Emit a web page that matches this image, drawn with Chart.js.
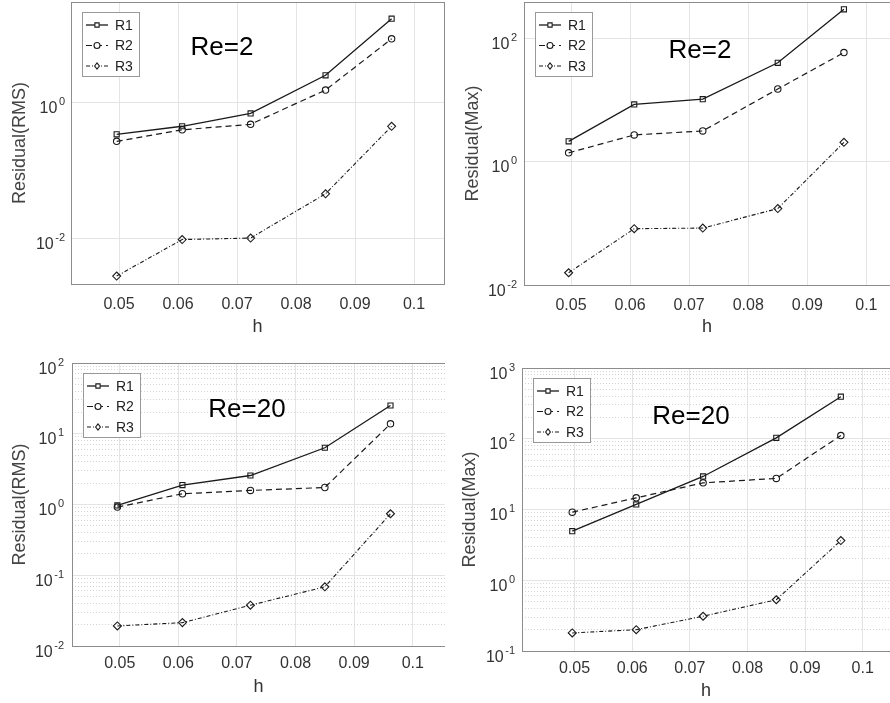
<!DOCTYPE html>
<html>
<head>
<meta charset="utf-8">
<script src="https://cdn.jsdelivr.net/npm/chart.js@4.4.0/dist/chart.umd.min.js"></script>
<style>
  html, body { margin: 0; padding: 0; background: #fff; }
  #fig { position: relative; width: 890px; height: 703px; overflow: hidden; }
  #fig canvas { position: absolute; }
</style>
</head>
<body>
<div id="fig"></div>
<script>
// grid spacing h (x values)
const hValues = [0.0496, 0.0607, 0.0723, 0.0850, 0.0962];
const xTickValues = [0.05, 0.06, 0.07, 0.08, 0.09, 0.1];
const seriesNames = ['R1', 'R2', 'R3'];

// Re=2, RMS residual
const rmsRe2R1 = [0.335, 0.44, 0.68, 2.47, 16.8];
const rmsRe2R2 = [0.264, 0.39, 0.47, 1.5, 8.5];
const rmsRe2R3 = [0.00276, 0.0095, 0.0100, 0.0447, 0.44];

// Re=2, max residual
const maxRe2R1 = [2.15, 8.55, 10.4, 40.5, 299];
const maxRe2R2 = [1.4, 2.73, 3.17, 15.2, 59.3];
const maxRe2R3 = [0.0158, 0.082, 0.084, 0.174, 2.07];

// Re=20, RMS residual
const rmsRe20R1 = [0.97, 1.88, 2.57, 6.34, 25.1];
const rmsRe20R2 = [0.92, 1.42, 1.58, 1.74, 13.8];
const rmsRe20R3 = [0.0192, 0.0214, 0.0377, 0.0686, 0.74];

// Re=20, max residual
const maxRe20R1 = [4.94, 11.8, 29.3, 103, 393];
const maxRe20R2 = [9.17, 14.6, 23.8, 27.5, 111];
const maxRe20R3 = [0.18, 0.2, 0.31, 0.53, 3.64];

// y tick values (decades)
const yTicksRmsRe2 = [0.01, 1];
const yTicksMaxRe2 = [0.01, 1, 100];
const yTicksRmsRe20 = [0.01, 0.1, 1, 10, 100];
const yTicksMaxRe20 = [0.1, 1, 10, 100, 1000];

const FONT = '"Liberation Sans", Arial, sans-serif';
const fig = document.getElementById('fig');

function minorValues(min, max) {
  let out = [];
  for (let d = Math.floor(Math.log10(min)); d < Math.ceil(Math.log10(max)); d++) {
    for (let k = 2; k <= 9; k++) {
      let v = k * Math.pow(10, d);
      if (v > min && v < max) out.push(v);
    }
  }
  return out;
}

function drawMarker(ctx, style, x, y, r) {
  ctx.beginPath();
  if (style === 'rect') {
    let s = Math.SQRT1_2 * r;
    ctx.rect(x - s, y - s, 2 * s, 2 * s);
  } else if (style === 'circle') {
    ctx.arc(x, y, r, 0, Math.PI * 2);
  } else {
    ctx.moveTo(x - r * 0.8, y); ctx.lineTo(x, y - r); ctx.lineTo(x + r * 0.8, y); ctx.lineTo(x, y + r); ctx.closePath();
  }
  ctx.fill();
  ctx.stroke();
}

const framePlugin = {
  id: 'frame',
  afterDatasetsDraw(chart) {
    const a = chart.chartArea, ctx = chart.ctx;
    ctx.save();
    ctx.strokeStyle = '#8c8c8c';
    ctx.lineWidth = 1;
    ctx.strokeRect(Math.round(a.left) + 0.5, Math.round(a.top) + 0.5, Math.round(a.right - a.left), Math.round(a.bottom - a.top));
    ctx.restore();
  }
};

// power-of-ten tick labels with a raised exponent, placed with the y scale
const powTickPlugin = {
  id: 'powTicks',
  afterDraw(chart, args, opts) {
    const s = chart.scales.y, ctx = chart.ctx;
    ctx.save();
    ctx.fillStyle = '#333';
    ctx.textBaseline = 'alphabetic';
    s.ticks.forEach(t => {
      const y = s.getPixelForValue(t.value);
      const e = String(Math.round(Math.log10(t.value)));
      const xr = s.right - opts.pad;
      ctx.font = '11px ' + FONT;
      ctx.textAlign = 'right';
      ctx.fillText(e, xr, y + 2.5);
      const ew = ctx.measureText(e).width;
      ctx.font = '16px ' + FONT;
      ctx.fillText('10', xr - ew - 1.5, y + 10.5);
    });
    ctx.restore();
  }
};

const legendPlugin = {
  id: 'inlineLegend',
  afterDraw(chart) {
    const a = chart.chartArea, ctx = chart.ctx;
    const x0 = Math.round(a.left + 11), y0 = Math.round(a.top + 10);
    ctx.save();
    ctx.fillStyle = '#fff';
    ctx.fillRect(x0, y0, 57, 64);
    ctx.strokeStyle = '#999';
    ctx.lineWidth = 1;
    ctx.strokeRect(x0 + 0.5, y0 + 0.5, 57, 64);
    chart.data.datasets.forEach((ds, i) => {
      const y = y0 + 13 + i * 20.5;
      ctx.strokeStyle = ds.borderColor;
      ctx.lineWidth = ds.borderWidth;
      ctx.setLineDash(ds.borderDash || []);
      ctx.beginPath(); ctx.moveTo(x0 + 4, y); ctx.lineTo(x0 + 26, y); ctx.stroke();
      ctx.setLineDash([]);
      ctx.fillStyle = '#fff';
      ctx.lineWidth = 1.1;
      drawMarker(ctx, ds.pointStyle, x0 + 15, y, 3);
      ctx.fillStyle = '#222';
      ctx.font = '14px ' + FONT;
      ctx.textBaseline = 'middle';
      ctx.textAlign = 'left';
      ctx.fillText(ds.label, x0 + 33, y + 1);
    });
    ctx.restore();
  }
};

const titlePlugin = {
  id: 'panelTitle',
  afterDraw(chart, args, opts) {
    const ctx = chart.ctx;
    ctx.save();
    ctx.fillStyle = '#000';
    ctx.font = '26px ' + FONT;
    ctx.textAlign = 'center';
    ctx.textBaseline = 'middle';
    ctx.fillText(opts.text, opts.x, opts.y);
    ctx.restore();
  }
};

function makeDatasets(r1, r2, r3) {
  const vals = [r1, r2, r3];
  const styles = [
    { dash: [], point: 'rect', radius: 3.6, width: 1.3 },
    { dash: [6, 4], point: 'circle', radius: 3.2, width: 1.2 },
    { dash: [4, 2, 1, 2], point: 'rectRot', radius: 4, width: 1.1 }
  ];
  return vals.map((v, i) => ({
    label: seriesNames[i],
    data: hValues.map((h, j) => ({ x: h, y: v[j] })),
    borderColor: '#1a1a1a',
    borderWidth: styles[i].width,
    borderDash: styles[i].dash,
    pointStyle: styles[i].point,
    pointRadius: styles[i].radius,
    pointBorderWidth: 1.1,
    pointBorderColor: '#1a1a1a',
    pointBackgroundColor: 'rgba(255,255,255,0)',
    tension: 0,
    fill: false
  }));
}

function makePanel(p) {
  const cv = document.createElement('canvas');
  cv.width = p.w; cv.height = p.h;
  cv.style.left = p.left + 'px';
  cv.style.top = p.top + 'px';
  cv.style.width = p.w + 'px';
  cv.style.height = p.h + 'px';
  fig.appendChild(cv);

  const scales = {
    x: {
      type: 'linear', min: p.xMin, max: p.xMax,
      afterBuildTicks: s => { s.ticks = xTickValues.map(v => ({ value: v })); },
      afterFit: s => { s.height = p.xAxisH; s.paddingLeft = 0; s.paddingRight = 0; },
      grid: { color: '#e4e4e4', drawTicks: false },
      border: { color: '#8c8c8c' },
      ticks: {
        padding: p.xTickPad, color: '#333', maxRotation: 0, autoSkip: false,
        font: { family: FONT, size: 16 },
        callback: v => String(+Number(v).toFixed(2))
      },
      title: { display: true, text: 'h', color: '#333', font: { family: FONT, size: 18 }, padding: { top: 0, bottom: p.xTitlePad } }
    },
    y: {
      type: 'logarithmic', min: p.yMin, max: p.yMax, position: 'left',
      afterBuildTicks: s => { s.ticks = p.yTicks.map(v => ({ value: v })); },
      afterFit: s => { s.width = p.yAxisW; s.paddingTop = 0; s.paddingBottom = 0; },
      grid: { color: '#e4e4e4', drawTicks: false },
      border: { color: '#8c8c8c' },
      ticks: { display: false, autoSkip: false },
      title: { display: true, text: p.yTitle, color: '#444', font: { family: FONT, size: 18 }, padding: { top: p.yTitlePad, bottom: 0 } }
    }
  };
  if (p.minorGrid) {
    scales.yMinor = {
      type: 'logarithmic', min: p.yMin, max: p.yMax, position: 'left',
      afterBuildTicks: s => { s.ticks = minorValues(p.yMin, p.yMax).map(v => ({ value: v })); },
      afterFit: s => { s.width = 0; s.paddingTop = 0; s.paddingBottom = 0; },
      grid: { color: '#d4d4d4', drawTicks: false, lineWidth: 1 },
      border: { display: false, dash: [1, 2] },
      ticks: { display: false }
    };
  }

  new Chart(cv.getContext('2d'), {
    type: 'line',
    data: { datasets: makeDatasets(p.r1, p.r2, p.r3) },
    options: {
      responsive: false,
      animation: false,
      devicePixelRatio: 1,
      layout: { autoPadding: false, padding: { top: p.padTop, right: p.padRight, left: 0, bottom: 0 } },
      scales: scales,
      plugins: {
        legend: { display: false },
        tooltip: { enabled: false },
        powTicks: { pad: p.yTickPad },
        panelTitle: { text: p.title, x: p.titleX, y: p.titleY }
      }
    },
    plugins: [framePlugin, powTickPlugin, legendPlugin, titlePlugin]
  });
}

makePanel({
  left: 0, top: 0, w: 445, h: 345,
  xMin: 0.04186, xMax: 0.10508, yMin: 0.00211, yMax: 29.55,
  yTicks: yTicksRmsRe2, minorGrid: false,
  yAxisW: 71, xAxisH: 61, padTop: 2, padRight: 1,
  xTickPad: 11, xTitlePad: 7, yTickPad: 6, yTitlePad: 9,
  yTitle: 'Residual(RMS)', title: 'Re=2', titleX: 222, titleY: 48,
  r1: rmsRe2R1, r2: rmsRe2R2, r3: rmsRe2R3
});

makePanel({
  left: 445, top: 0, w: 445, h: 345,
  xMin: 0.04204, xMax: 0.1040, yMin: 0.01, yMax: 393,
  yTicks: yTicksMaxRe2, minorGrid: false,
  yAxisW: 79, xAxisH: 60, padTop: 2, padRight: 0,
  xTickPad: 11, xTitlePad: 7, yTickPad: 7, yTitlePad: 17,
  yTitle: 'Residual(Max)', title: 'Re=2', titleX: 255, titleY: 51,
  r1: maxRe2R1, r2: maxRe2R2, r3: maxRe2R3
});

makePanel({
  left: 0, top: 345, w: 445, h: 358,
  xMin: 0.04186, xMax: 0.1055, yMin: 0.01, yMax: 100,
  yTicks: yTicksRmsRe20, minorGrid: true,
  yAxisW: 72, xAxisH: 57, padTop: 18, padRight: 0,
  xTickPad: 8, xTitlePad: 5, yTickPad: 8, yTitlePad: 9,
  yTitle: 'Residual(RMS)', title: 'Re=20', titleX: 247, titleY: 65,
  r1: rmsRe20R1, r2: rmsRe20R2, r3: rmsRe20R3
});

makePanel({
  left: 445, top: 345, w: 445, h: 358,
  xMin: 0.04088, xMax: 0.10473, yMin: 0.1, yMax: 1000,
  yTicks: yTicksMaxRe20, minorGrid: true,
  yAxisW: 77, xAxisH: 52, padTop: 23, padRight: 0,
  xTickPad: 8, xTitlePad: 1, yTickPad: 7, yTitlePad: 14,
  yTitle: 'Residual(Max)', title: 'Re=20', titleX: 246, titleY: 72,
  r1: maxRe20R1, r2: maxRe20R2, r3: maxRe20R3
});
</script>
</body>
</html>
